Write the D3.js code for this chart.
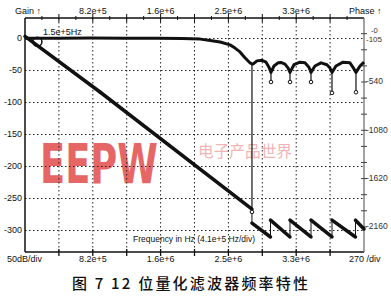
<html>
<head>
<script src="https://cdnjs.cloudflare.com/ajax/libs/d3/7.8.5/d3.min.js"></script>
<style>
  body { margin:0; background:#fff; }
  text { font-family:"Liberation Sans", Arial, sans-serif; fill:#111; }
</style>
</head>
<body>
<script>

// frequency is in MHz, gain in dB, phase in degrees

var freqTickPos    = [0.82, 1.64, 2.46, 3.28];
var freqTickLabels = ["8.2e+5", "1.6e+6", "2.5e+6", "3.3e+6"];
var gainTicks      = [0, -50, -100, -150, -200, -250, -300];
var phaseTicks     = [0, -540, -1080, -1620, -2160];
var phaseLabels    = ["-0", "-540", "-1080", "-1620", "-2160"];

var gainData = [
  [0, 0.5], [0.4, 0.3], [0.8, 0.6], [1.2, 0.4], [1.6, 0.3], [1.9, 0], [2.12, -1],
  [2.24, -3], [2.36, -5.5], [2.48, -10], [2.54, -15], [2.60, -21], [2.66, -30],
  [2.72, -38], [2.745, -40], [2.757, -40], [2.806, -35], [2.866, -34], [2.915, -37],
  [2.951, -45], [2.975, -53], [3.011, -43], [3.060, -38], [3.096, -37.5], [3.144, -40],
  [3.181, -46], [3.205, -53], [3.253, -41], [3.326, -37], [3.386, -38], [3.434, -45],
  [3.459, -53], [3.507, -43], [3.580, -38], [3.652, -41], [3.688, -46], [3.713, -53],
  [3.761, -43], [3.846, -37], [3.930, -38], [3.967, -45], [4.003, -53], [4.052, -43],
  [4.100, -37]
];

// notch: frequency, top of stem, bottom of stem
var notchData = [
  [2.745, -40, -271], [2.975, -53, -68], [3.205, -53, -68],
  [3.459, -53, -68], [3.713, -53, -85], [4.003, -53, -84]
];

var phaseData = [
  [0, -31], [0.907, -652], [2.745, -1962],
  [2.745, -2118], [2.969, -2273],
  [2.969, -2085], [3.205, -2273],
  [3.205, -2085], [3.459, -2273],
  [3.459, -2085], [3.713, -2273],
  [3.713, -2085], [3.997, -2273],
  [3.997, -2085], [4.100, -2184]
];

var markerFreq = 0.15, markerGain = -5;

var svg = d3.select("body").append("svg")
            .attr("width", 391)
            .attr("height", 299);

svg.append("rect").attr("width", 391).attr("height", 299).attr("fill", "#fff");

var x  = d3.scaleLinear().domain([0, 4.1]).range([25, 364]);
var yG = d3.scaleLinear().domain([-333.6, 32]).range([252, 18]);
var yP = d3.scaleLinear().domain([-2441, 175.5]).range([252, 18]);

// watermark
svg.append("text")
   .attr("transform", "translate(40,183) scale(1,1.2)")
   .attr("textLength", 118).attr("lengthAdjust", "spacingAndGlyphs")
   .style("font-family", "DejaVu Sans").style("font-size", "46px").style("font-weight", "bold")
   .style("fill", "#e03c3c").style("opacity", 0.78)
   .text("EEPW");
svg.append("text")
   .attr("x", 198).attr("y", 157)
   .attr("textLength", 94).attr("lengthAdjust", "spacingAndGlyphs")
   .style("font-family", "Noto Sans CJK SC").style("font-size", "16px")
   .style("fill", "#f1b4b4")
   .text("电子产品世界");

// grid
var divs = d3.range(1, 10).map(function(i) { return i * 0.41; });
svg.selectAll(".vgrid").data(divs).enter().append("line")
   .attr("x1", function(d) { return x(d); }).attr("x2", function(d) { return x(d); })
   .attr("y1", 18).attr("y2", 252)
   .attr("stroke", "#222").attr("stroke-width", 1).attr("stroke-dasharray", "1.5,2.5");
svg.selectAll(".hgrid").data(gainTicks).enter().append("line")
   .attr("x1", 25).attr("x2", 364)
   .attr("y1", function(d) { return yG(d); }).attr("y2", function(d) { return yG(d); })
   .attr("stroke", "#222").attr("stroke-width", 1).attr("stroke-dasharray", "1.5,2.5");

// frame
svg.append("line").attr("x1", 25).attr("x2", 25).attr("y1", 18).attr("y2", 252)
   .attr("stroke", "#111").attr("stroke-width", 1.5);
svg.append("line").attr("x1", 25).attr("x2", 364).attr("y1", 18).attr("y2", 18)
   .attr("stroke", "#111").attr("stroke-width", 1.5);
svg.append("line").attr("x1", 25).attr("x2", 364).attr("y1", 252).attr("y2", 252)
   .attr("stroke", "#111").attr("stroke-width", 1.5);
svg.append("line").attr("x1", 364).attr("x2", 364).attr("y1", 18).attr("y2", 252)
   .attr("stroke", "#666").attr("stroke-width", 1.2);

// ticks on top / bottom lines
var halfDivs = d3.range(1, 20).map(function(i) { return i * 0.205; });
svg.selectAll(".ttick").data(halfDivs).enter().append("line")
   .attr("x1", function(d) { return x(d); }).attr("x2", function(d) { return x(d); })
   .attr("y1", function(d, i) { return i % 2 ? 14 : 16; })
   .attr("y2", function(d, i) { return i % 2 ? 22 : 20; })
   .attr("stroke", "#111").attr("stroke-width", 1);
svg.selectAll(".btick").data(divs).enter().append("line")
   .attr("x1", function(d) { return x(d); }).attr("x2", function(d) { return x(d); })
   .attr("y1", 249).attr("y2", 256)
   .attr("stroke", "#111").attr("stroke-width", 1.3);

// phase axis ticks every 180 deg
var phaseMinor = d3.range(0, 13).map(function(i) { return -180 * i; });
svg.selectAll(".ptick").data(phaseMinor).enter().append("line")
   .attr("x1", 361).attr("x2", 367)
   .attr("y1", function(d) { return yP(d); }).attr("y2", function(d) { return yP(d); })
   .attr("stroke", "#444").attr("stroke-width", 1);

// labels
svg.selectAll(".tlab").data(freqTickPos).enter().append("text")
   .attr("x", function(d) { return x(d); }).attr("y", 13.5)
   .attr("text-anchor", "middle").style("font-size", "9px")
   .text(function(d, i) { return freqTickLabels[i]; });
svg.selectAll(".blab").data(freqTickPos).enter().append("text")
   .attr("x", function(d) { return x(d); }).attr("y", 262)
   .attr("text-anchor", "middle").style("font-size", "9px")
   .text(function(d, i) { return freqTickLabels[i]; });
svg.selectAll(".glab").data(gainTicks).enter().append("text")
   .attr("x", 22).attr("y", function(d) { return yG(d) + 2.5; })
   .attr("text-anchor", "end").style("font-size", "9px")
   .text(function(d) { return d; });
svg.selectAll(".plab").data(phaseTicks).enter().append("text")
   .attr("x", function(d) { return d == 0 ? 371 : 366; })
   .attr("y", function(d) { return d == 0 ? yP(d) - 0.5 : yP(d) + 2.5; })
   .style("font-size", function(d) { return d == 0 ? "7.5px" : "8.5px"; })
   .style("fill", "#333")
   .text(function(d, i) { return phaseLabels[i]; });
svg.append("text").attr("x", 366).attr("y", yG(0) + 3.5)
   .style("font-size", "8px").style("fill", "#333").text("-105");

svg.append("text").attr("x", 15).attr("y", 13.5).style("font-size", "9px").text("Gain \u2191");
svg.append("text").attr("x", 349).attr("y", 13.5).style("font-size", "9px").text("Phase \u2191");
svg.append("text").attr("x", 7).attr("y", 262).style("font-size", "9px").text("50dB/div");
svg.append("text").attr("x", 349).attr("y", 262).style("font-size", "9px").text("270 /div");
svg.append("text").attr("x", 133).attr("y", 242)
   .attr("textLength", 122).attr("lengthAdjust", "spacingAndGlyphs")
   .style("font-size", "9.5px").text("Frequency in Hz (4.1e+5 Hz/div)");

// phase curve: sloping parts thick, wrap jumps thin
var line = d3.line()
             .x(function(d) { return x(d[0]); })
             .y(function(d) { return yP(d[1]); });
for (var i = 0; i < phaseData.length - 1; i++) {
    var a = phaseData[i], b = phaseData[i + 1];
    var jump = a[0] == b[0];
    svg.append("path")
       .attr("d", line([a, b]))
       .attr("fill", "none")
       .attr("stroke", "#111")
       .attr("stroke-width", jump ? 1 : 3.5)
       .attr("stroke-linecap", jump ? "butt" : "round");
}

// gain curve
var gline = d3.line()
              .x(function(d) { return x(d[0]); })
              .y(function(d) { return yG(d[1]); });
svg.append("path")
   .attr("d", gline(gainData))
   .attr("fill", "none")
   .attr("stroke", "#111")
   .attr("stroke-width", 3)
   .attr("stroke-linejoin", "round");

// notch stems and their circles
svg.selectAll(".stem").data(notchData).enter().append("line")
   .attr("x1", function(d) { return x(d[0]); }).attr("x2", function(d) { return x(d[0]); })
   .attr("y1", function(d) { return yG(d[1]); }).attr("y2", function(d) { return yG(d[2]); })
   .attr("stroke", "#111").attr("stroke-width", 1.2);
svg.selectAll(".notch").data(notchData).enter().append("circle")
   .attr("cx", function(d) { return x(d[0]); })
   .attr("cy", function(d) { return yG(d[2]); })
   .attr("r", 1.8)
   .attr("fill", "#fff").attr("stroke", "#111").attr("stroke-width", 1);

// marker
svg.append("circle")
   .attr("cx", x(markerFreq)).attr("cy", yG(markerGain)).attr("r", 4.5)
   .attr("fill", "none").attr("stroke", "#111").attr("stroke-width", 1.5);
svg.append("text").attr("x", 43).attr("y", 35)
   .style("font-size", "9px").text("1.5e+5Hz");

// caption
svg.append("text")
   .attr("x", 72).attr("y", 289)
   .attr("textLength", 236).attr("lengthAdjust", "spacing")
   .style("font-family", "Noto Sans CJK SC").style("font-size", "15px").style("font-weight", "500")
   .text("图 7  12 位量化滤波器频率特性");

</script>
</body>
</html>
